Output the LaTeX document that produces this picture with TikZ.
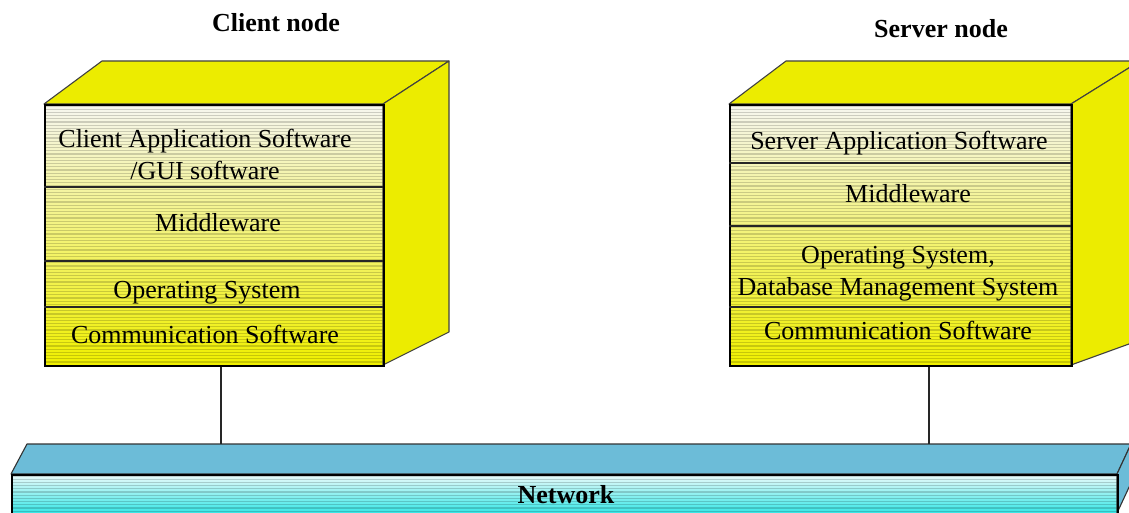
\documentclass[tikz,border=0pt]{standalone}
\usepackage{fontspec}
\setmainfont{Liberation Serif}
\definecolor{nodeyellow}{RGB}{236,236,0}
\definecolor{facetop}{RGB}{246,246,240}
\definecolor{facebot}{RGB}{240,240,0}
\definecolor{nettop}{RGB}{108,188,216}
\definecolor{netlight}{RGB}{238,250,250}
\definecolor{netcyan}{RGB}{30,228,228}
\begin{document}
\begin{tikzpicture}[x=1pt,y=-1pt,
  lbl/.style={font=\fontsize{26}{32}\selectfont, inner sep=0pt, align=center},
  ttl/.style={font=\fontsize{26}{32}\selectfont\bfseries, inner sep=0pt},
  face/.style={draw=black, line width=1.6pt, inner sep=0pt, anchor=north west},
  sideface/.style={fill=nodeyellow, draw=black!75, line width=1.1pt, line join=round},
  netside/.style={fill=nettop, draw=black!80, line width=1.1pt, line join=round},
  divider/.style={draw=black!85, line width=1.1pt},
  stripe/.style={draw=black, opacity=0.17, line width=1.2pt},
  link/.style={draw=black!85, line width=1.1pt}]
\useasboundingbox (0,0) rectangle (1129,513);

% ---------- client node ----------
\begin{scope}
  \clip (44,104) rectangle (383,365);
  \shade[top color=facetop, bottom color=facebot] (44,104) rectangle (383,365);
  \foreach \yy in {106,109.2,...,366} \draw[stripe] (44,\yy) -- (383,\yy);
\end{scope}
\filldraw[sideface] (44,104) -- (102,61) -- (449,61) -- (383,104) -- cycle;
\filldraw[sideface] (383,104) -- (449,61) -- (449,332) -- (383,365) -- cycle;
\node[face, minimum width=339pt, minimum height=261pt] (cfront) at (44,104) {};
\draw[divider] (44,187) -- (383,187);
\draw[divider] (44,261) -- (383,261);
\draw[divider] (44,307) -- (383,307);
\node[lbl] (capp) at (205,154) {Client Application Software\\/GUI software};
\node[lbl, anchor=base] (cmid) at (218,231) {Middleware};
\node[lbl, anchor=base] (cos) at (207,298) {Operating System};
\node[lbl, anchor=base] (ccom) at (205,343) {Communication Software};
\node[ttl, anchor=base] (ctitle) at (276,32) {Client node};

% ---------- server node ----------
\begin{scope}
  \clip (729,104) rectangle (1071,365);
  \shade[top color=facetop, bottom color=facebot] (729,104) rectangle (1071,365);
  \foreach \yy in {106,109.2,...,366} \draw[stripe] (729,\yy) -- (1071,\yy);
\end{scope}
\filldraw[sideface] (729,104) -- (786,61) -- (1140,61) -- (1071,104) -- cycle;
\filldraw[sideface] (1071,104) -- (1140,61) -- (1140,340) -- (1071,365) -- cycle;
\node[face, minimum width=342pt, minimum height=261pt] (sfront) at (729,104) {};
\draw[divider] (729,163) -- (1071,163);
\draw[divider] (729,226) -- (1071,226);
\draw[divider] (729,307) -- (1071,307);
\node[lbl, anchor=base] (sapp) at (899,150) {Server Application Software};
\node[lbl, anchor=base] (smid) at (908,203) {Middleware};
\node[lbl] (sos) at (898,274) {Operating System,\\Database Management System};
\node[lbl, anchor=base] (scom) at (898,339) {Communication Software};
\node[ttl, anchor=base] (stitle) at (941,38) {Server node};

% ---------- network ----------
\begin{scope}
  \clip (11,474) rectangle (1117,518);
  \shade[top color=netlight, bottom color=netcyan] (11,474) rectangle (1117,518);
  \foreach \yy in {476,479.2,...,518} \draw[stripe] (11,\yy) -- (1117,\yy);
\end{scope}
\filldraw[netside] (11,474) -- (27,444) -- (1131,444) -- (1117,474) -- cycle;
\filldraw[netside] (1117,474) -- (1131,444) -- (1131,483) -- (1117,513) -- cycle;
\node[face, minimum width=1106pt, minimum height=44pt] (net) at (11,474) {};
\node[ttl, anchor=base] (netlabel) at (566,503) {Network};

% ---------- connectors ----------
\coordinate (cl) at (221,444);
\coordinate (sl) at (929,444);
\draw[link] (cfront.south -| cl) -- (cl);
\draw[link] (sfront.south -| sl) -- (sl);
\end{tikzpicture}
\end{document}
